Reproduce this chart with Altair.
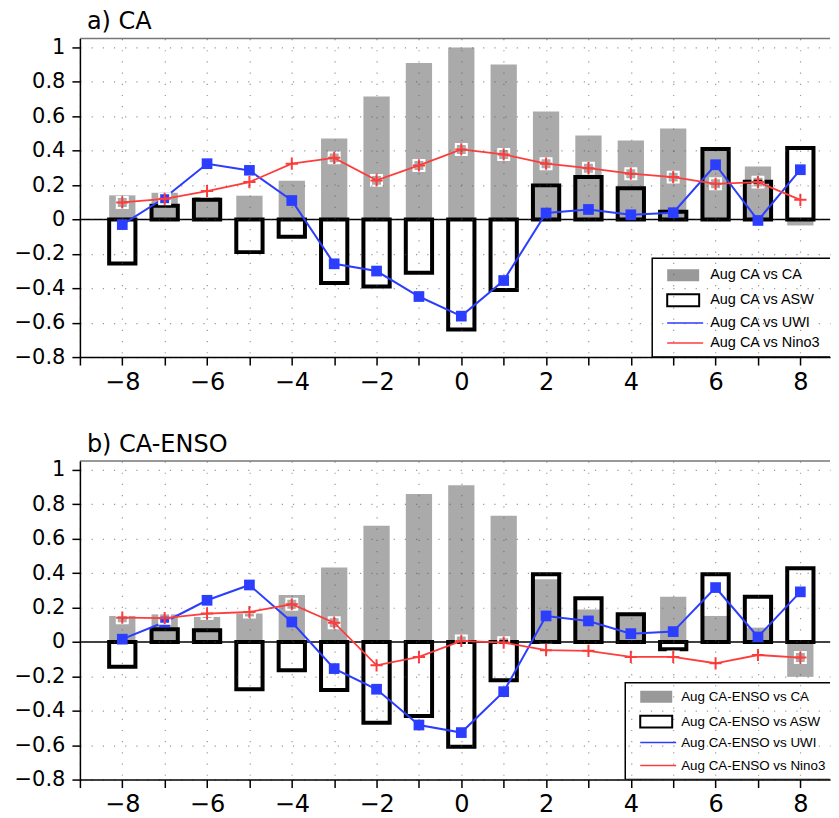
import altair as alt
import pandas as pd

# ---------------- data ----------------
lags = list(range(-8, 9))

a_ca = [0.14, 0.155, 0.13, 0.138, 0.225, 0.47, 0.715, 0.91, 1.0, 0.90, 0.628, 0.488, 0.459, 0.529, 0.40, 0.308, -0.035]
a_asw = [-0.256, 0.08, 0.115, -0.19, -0.10, -0.37, -0.39, -0.31, -0.64, -0.41, 0.198, 0.246, 0.182, 0.045, 0.41, 0.219, 0.415]
a_uwi = [-0.03, 0.126, 0.324, 0.285, 0.11, -0.258, -0.30, -0.448, -0.562, -0.355, 0.037, 0.058, 0.027, 0.039, 0.318, -0.006, 0.289]
a_nino3 = [0.099, 0.12, 0.165, 0.217, 0.324, 0.358, 0.227, 0.314, 0.407, 0.378, 0.324, 0.298, 0.266, 0.246, 0.207, 0.217, 0.114]

b_ca = [0.151, 0.16, 0.145, 0.165, 0.273, 0.432, 0.676, 0.86, 0.91, 0.733, 0.364, 0.188, 0.16, 0.262, 0.151, 0.083, -0.203]
b_asw = [-0.145, 0.074, 0.068, -0.275, -0.165, -0.28, -0.47, -0.43, -0.61, -0.223, 0.393, 0.254, 0.161, -0.043, 0.393, 0.262, 0.428]
b_uwi = [0.016, 0.116, 0.242, 0.331, 0.116, -0.155, -0.275, -0.483, -0.527, -0.289, 0.151, 0.122, 0.048, 0.06, 0.316, 0.029, 0.291]
b_nino3 = [0.141, 0.138, 0.165, 0.174, 0.219, 0.112, -0.136, -0.087, 0.006, -0.004, -0.048, -0.052, -0.087, -0.087, -0.124, -0.076, -0.091]

a_names = ["Aug CA vs CA", "Aug CA vs ASW", "Aug CA vs UWI", "Aug CA vs Nino3"]
b_names = ["Aug CA-ENSO vs CA", "Aug CA-ENSO vs ASW", "Aug CA-ENSO vs UWI", "Aug CA-ENSO vs Nino3"]

x_ticks = list(range(-9, 9))
y_ticks = [-0.8, -0.6, -0.4, -0.2, 0, 0.2, 0.4, 0.6, 0.8, 1]

# ---------------- style ----------------
FONT = "DejaVu Sans"
LFONT = "Liberation Sans"
W, H = 751, 319
XMAX = 8.70
GRAY = "#aaaaaa"
BLUE = "#2b3dff"
RED = "#ff3c3c"
HALF = 0.31

xscale = alt.Scale(domain=[-9, XMAX], nice=False, zero=False)
yscale = alt.Scale(domain=[-0.8, 1.052], nice=False, zero=False)

grid_kw = dict(grid=True, gridDash=[1.2, 10], gridColor="#555555", gridOpacity=0.6, gridWidth=1.2)
axis_kw = dict(domainColor="black", domainWidth=1.5, tickColor="black", tickWidth=1.5, tickSize=8,
               labelFont=FONT, labelColor="black", title=None, zindex=1, labelOverlap=False,
               tickCount=40)

xaxis = alt.Axis(values=x_ticks, labelExpr="datum.value % 2 === 0 ? format(datum.value, 'd') : ''",
                 labelFontSize=24, labelPadding=5, labelFlush=False, minExtent=40, maxExtent=40,
                 **grid_kw, **axis_kw)
yaxis = alt.Axis(values=y_ticks, labelExpr="format(datum.value, '~g')", labelFontSize=21, labelPadding=7,
                 minExtent=72, maxExtent=72, **grid_kw, **axis_kw)


def X(f):
    return alt.X(f, scale=xscale, axis=xaxis)


def Y(f):
    return alt.Y(f, scale=yscale, axis=yaxis)


def one():
    return alt.Chart(pd.DataFrame({"k": [0]}))


def panel(title, ca, asw, uwi, nino3, names, lg):
    df = pd.DataFrame({"lag": lags, "ca": ca, "asw": asw, "uwi": uwi, "nino3": nino3})
    df["x1"] = df["lag"] - HALF
    df["x2"] = df["lag"] + HALF
    base = alt.Chart(df)

    gray = base.mark_rect(color=GRAY).encode(x=X("x1:Q"), x2="x2:Q", y=Y("ca:Q"), y2=alt.datum(0))
    outline = base.mark_rect(filled=False, color="black", strokeWidth=4).encode(
        x=X("x1:Q"), x2="x2:Q", y=Y("asw:Q"), y2=alt.datum(0))
    zero = one().mark_rule(color="black", strokeWidth=1.5).encode(
        y=alt.datum(0), x=alt.value(0), x2=alt.value(W))
    topline = one().mark_rule(color="#777777", strokeWidth=1.5).encode(
        y=alt.value(0), x=alt.value(0), x2=alt.value(W))

    bline = base.mark_line(color=BLUE, strokeWidth=2).encode(x=X("lag:Q"), y=Y("uwi:Q"))
    bpts = base.mark_point(shape="square", filled=True, color=BLUE, size=115, opacity=1).encode(
        x=X("lag:Q"), y=Y("uwi:Q"))
    wbox = base.mark_point(shape="square", filled=False, color="white", strokeWidth=2, size=120,
                           opacity=1).encode(x=X("lag:Q"), y=Y("nino3:Q"))
    rline = base.mark_line(color=RED, strokeWidth=1.8).encode(x=X("lag:Q"), y=Y("nino3:Q"))
    rpts = base.mark_point(shape="M-1,0L1,0M0,-1L0,1", filled=False, color=RED, strokeWidth=2,
                           size=150, opacity=1).encode(x=X("lag:Q"), y=Y("nino3:Q"))

    # legend (drawn as marks, pixel positions inside the plot)
    bx, by, sx, tx, rows, fs = lg
    box = one().mark_rect(fill="white", stroke="black", strokeWidth=1.5, clip=True).encode(
        x=alt.value(bx), x2=alt.value(W + 4), y=alt.value(by), y2=alt.value(H))
    lg_gray = one().mark_rect(color="#999999").encode(
        x=alt.value(sx), x2=alt.value(sx + 32), y=alt.value(rows[0] - 6), y2=alt.value(rows[0] + 6))
    lg_out = one().mark_rect(filled=False, color="black", strokeWidth=2).encode(
        x=alt.value(sx), x2=alt.value(sx + 32), y=alt.value(rows[1] - 6), y2=alt.value(rows[1] + 6))
    lg_blue = one().mark_rule(color=BLUE, strokeWidth=1.5).encode(
        x=alt.value(sx), x2=alt.value(sx + 36), y=alt.value(rows[2]))
    lg_red = one().mark_rule(color=RED, strokeWidth=1.5).encode(
        x=alt.value(sx), x2=alt.value(sx + 36), y=alt.value(rows[3]))
    texts = [one().mark_text(align="left", baseline="middle", font=LFONT, fontSize=fs, color="black",
                             clip=True).encode(
        x=alt.value(tx), y=alt.value(r), text=alt.value(n)) for n, r in zip(names, rows)]

    layers = [gray, outline, zero, topline, bline, bpts, wbox, rline, rpts,
              box, lg_gray, lg_out, lg_blue, lg_red] + texts
    return alt.layer(*layers).properties(
        width=W, height=H,
        title=alt.TitleParams(title, anchor="start", frame="group", fontSize=24, font=FONT,
                              fontWeight="normal", color="black", offset=2, dx=7))


pa = panel("a) CA", a_ca, a_asw, a_uwi, a_nino3, a_names,
           (573, 220, 588, 631, [237, 262, 285, 305], 14.5))
pb = panel("b) CA-ENSO", b_ca, b_asw, b_uwi, b_nino3, b_names,
           (546, 222, 561, 602, [236, 261, 282, 305], 13.4))

chart = alt.vconcat(pa, pb, spacing=104, bounds="flush").properties(
    padding={"left": 0, "top": 1, "right": 0, "bottom": 0}
).configure_view(stroke=None).configure_axis(labelOverlap=False)

chart.save("out.html", embed_options={"renderer": "svg", "actions": False})
